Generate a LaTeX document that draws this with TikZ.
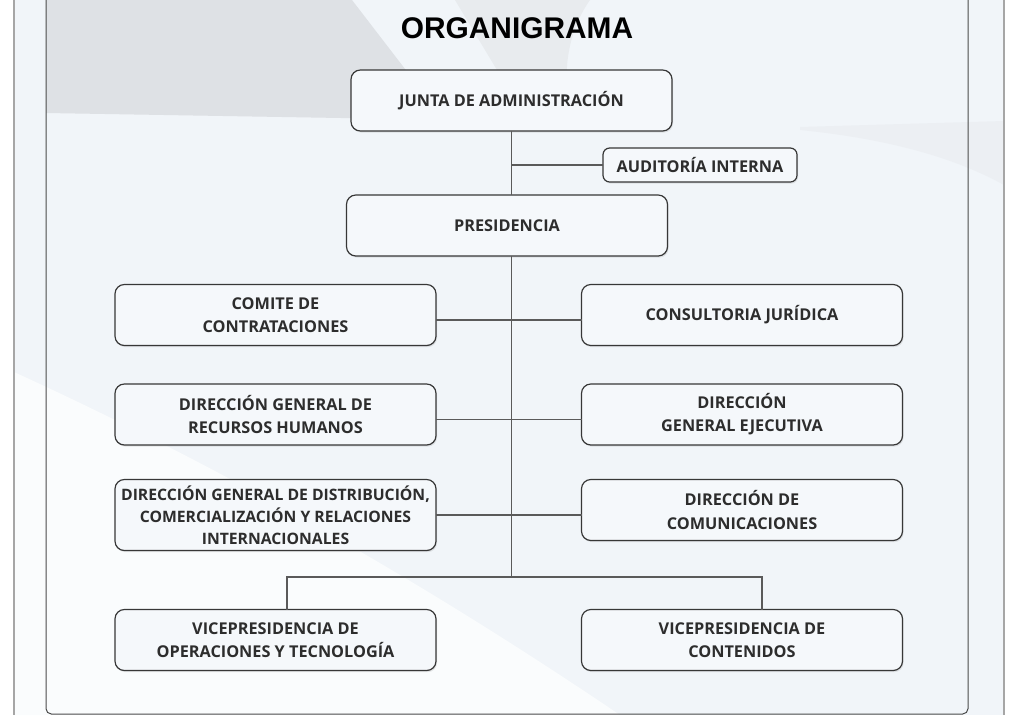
\documentclass[tikz,border=0pt]{standalone}
\usepackage{fontspec}
\setmainfont{Open Sans}
\newfontfamily\titlefont{Liberation Sans}
\usetikzlibrary{shadows}
\definecolor{bgblue}{RGB}{241,245,249}
\definecolor{bgwhite}{RGB}{250,252,253}
\definecolor{swoosh}{RGB}{222,225,229}
\definecolor{swooshlt}{RGB}{232,235,238}
\definecolor{boxfill}{RGB}{245,248,251}
\definecolor{boxline}{RGB}{55,55,55}
\definecolor{linkgray}{RGB}{90,90,90}
\definecolor{txtgray}{RGB}{45,45,45}

\begin{document}
\begin{tikzpicture}[x=0.75pt, y=-0.75pt,
  unit/.style={draw=boxline, line width=0.9pt, fill=boxfill, rounded corners=7pt,
    minimum width=240.75pt, minimum height=45.75pt, inner sep=1pt, outer sep=0pt,
    align=center, text=txtgray, font=\fontsize{12.2}{17.3}\selectfont\bfseries,
    drop shadow={opacity=0.18, shadow xshift=0.8pt, shadow yshift=-1.2pt}},
  link/.style={draw=linkgray, line width=1pt}]
  \useasboundingbox (0,0) rectangle (1020,715);

  % Background
  \fill[white] (0,0) rectangle (1020,715);
  \fill[bgblue] (14,0) rectangle (1004,715);
  \fill[swoosh] (46,0) -- (352,0) -- (425,95) .. controls (438,114) and (425,120) .. (400,119) -- (46,113) -- cycle;
  \fill[swooshlt] (455,0) -- (590,0) .. controls (565,35) and (560,85) .. (575,125) -- (530,125) -- cycle;
  \fill[swooshlt!60!bgblue] (800,127) -- (1004,121) -- (1004,185) .. controls (950,155) and (880,138) .. (800,130) -- cycle;
  \fill[bgwhite] (14,372) .. controls (250,480) and (450,600) .. (620,715) -- (14,715) -- cycle;
  \draw[gray!70, line width=2.2pt] (14,0) -- (14,715);
  \draw[gray!70, line width=2.2pt] (1004,0) -- (1004,715);
  \draw[boxline!90, line width=0.75pt, rounded corners=4pt] (46,-6) rectangle (968,714);

  % Title
  \node[font=\titlefont\fontsize{22.4}{26}\selectfont\bfseries] (title) at (517,28) {ORGANIGRAMA};

  % Top levels
  \node[unit] (junta) at (511.5,100.5) {JUNTA DE ADMINISTRACIÓN};
  \node[unit, minimum width=145.5pt, minimum height=25.5pt, rounded corners=5pt] (audit) at (700,165) {AUDITORÍA INTERNA};
  \node[unit] (pres) at (507,225.5) {PRESIDENCIA};

  % Left column
  \node[unit] (comite) at (275.5,315) {COMITE DE\\CONTRATACIONES};
  \node[unit] (rrhh) at (275.5,414.5) {DIRECCIÓN GENERAL DE\\RECURSOS HUMANOS};
  \node[unit, minimum height=53.25pt, font=\fontsize{11.8}{16.5}\selectfont\bfseries] (dist) at (275.5,515) {DIRECCIÓN GENERAL DE DISTRIBUCIÓN,\\COMERCIALIZACIÓN Y RELACIONES\\INTERNACIONALES};
  \node[unit] (vpop) at (275.5,640) {VICEPRESIDENCIA DE\\OPERACIONES Y TECNOLOGÍA};

  % Right column
  \node[unit] (consul) at (742,315) {CONSULTORIA JURÍDICA};
  \node[unit] (ejec) at (742,414.5) {DIRECCIÓN\\GENERAL EJECUTIVA};
  \node[unit] (comun) at (742,510) {DIRECCIÓN DE\\COMUNICACIONES};
  \node[unit] (vpcont) at (742,640) {VICEPRESIDENCIA DE\\CONTENIDOS};

  % Connectors
  \coordinate (bus) at (511.5,577);
  \draw[link] (junta) -- (junta |- pres.north);
  \draw[link] (junta |- audit) -- (audit.west);
  \draw[link] (junta |- pres.south) -- (bus);
  \draw[link] ([yshift=-3.75pt]comite.east) -- ([yshift=-3.75pt]consul.west);
  \draw[link] ([yshift=-3.75pt]rrhh.east) -- ([yshift=-3.75pt]ejec.west);
  \draw[link] (dist.east) -- (dist.east -| comun.west);
  \draw[link] ([xshift=8.6pt]vpop.north) |- (bus) -| ([xshift=15pt]vpcont.north);
\end{tikzpicture}
\end{document}
